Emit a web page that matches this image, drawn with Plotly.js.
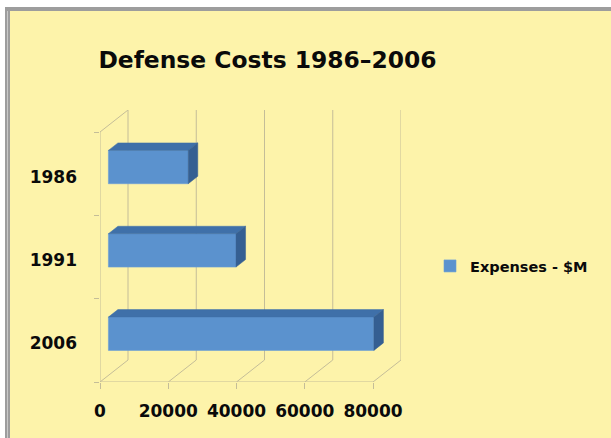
<!DOCTYPE html>
<html>
<head>
<meta charset="utf-8">
<script src="https://cdn.plot.ly/plotly-3.0.1.min.js"></script>
<style>
  html, body { margin: 0; padding: 0; background: #ffffff; }
  #wrap { position: relative; width: 611px; height: 438px; overflow: hidden; }
  #chart { position: absolute; left: 0; top: 0; width: 611px; height: 438px; }
  .edge { position: absolute; pointer-events: none; }
</style>
</head>
<body>
<div id="wrap">
  <div id="chart"></div>
  <div class="edge" style="left:0;top:0;width:611px;height:7px;background:#ffffff"></div>
  <div class="edge" style="left:0;top:0;width:5px;height:438px;background:#ffffff"></div>
  <div class="edge" style="left:5px;top:7px;width:606px;height:4px;background:#9d9d9d"></div>
  <div class="edge" style="left:5px;top:7px;width:5px;height:431px;background:#9d9d9d"></div>
  <div class="edge" style="left:7px;top:11px;width:1px;height:427px;background:#c9c9c9"></div>
</div>
<script>
// Defense expenses by year ($M)
const years = ['1986', '1991', '2006'];
const expenses = [23400, 37400, 77800];
const valueTicks = [0, 20000, 40000, 60000, 80000];
const seriesName = 'Expenses - $M';

// --- pseudo-3D layout geometry (oblique projection) ---
const axisMax = valueTicks[valueTicks.length - 1];
const pxPerValue = 273 / axisMax;          // front axis length in px
const pxPerBand = 250 / years.length;      // category band height in px
const depthPx = [28, 22];                  // wall depth offset (right, up)
const DX = depthPx[0] / pxPerValue;        // depth offset in value units
const DY = depthPx[1] / pxPerBand;         // depth offset in category units
const nCat = years.length;
const barFront = 0.30, barBack = 0.64;     // bar depth position within the floor
const barHalf = 0.20;                      // half bar thickness (gap width 150%)
const labelDrop = 3 / pxPerBand;           // category labels sit slightly low

const plotL = 100, plotT = 110;
const plotW = Math.round(axisMax * pxPerValue + depthPx[0]);
const plotH = Math.round(nCat * pxPerBand + depthPx[1]);
const W = 611, H = 438;

// category centres, first category on top
const centres = years.map((_, i) => nCat - i - 0.5);

// walls and gridlines
const gx = [], gy = [];
function seg(x0, y0, x1, y1) { gx.push(x0, x1, null); gy.push(y0, y1, null); }
valueTicks.forEach(v => {
  seg(v + DX, DY, v + DX, nCat + DY);   // back wall
  seg(v, 0, v + DX, DY);                // floor
});
seg(0, 0, axisMax, 0);                  // front edge of floor
seg(0, 0, 0, nCat);                     // front edge of side wall
seg(0, nCat, DX, nCat + DY);            // top edge of side wall

// top and end faces of each bar
const tx = [], ty = [], sx = [], sy = [];
expenses.forEach((v, i) => {
  const c = centres[i];
  const xf = barFront * DX, xb = barBack * DX;
  const yf = barFront * DY, yb = barBack * DY;
  tx.push(xf, xf + v, xb + v, xb, xf, null);
  ty.push(c + barHalf + yf, c + barHalf + yf, c + barHalf + yb, c + barHalf + yb, c + barHalf + yf, null);
  sx.push(xf + v, xb + v, xb + v, xf + v, xf + v, null);
  sy.push(c - barHalf + yf, c - barHalf + yb, c + barHalf + yb, c + barHalf + yf, c - barHalf + yf, null);
});

const gridColor = '#c4bd98';
const font = 'DejaVu Sans';

const traces = [
  { type: 'scatter', mode: 'lines', x: gx, y: gy, xaxis: 'x', yaxis: 'y',
    line: { color: gridColor, width: 1 }, hoverinfo: 'skip', showlegend: false },
  { type: 'bar', orientation: 'h', name: seriesName,
    x: expenses, y: centres.map(c => c + barFront * DY), base: barFront * DX,
    width: 2 * barHalf, xaxis: 'x2', yaxis: 'y2',
    marker: { color: '#5b92ce', line: { color: '#6a9ed6', width: 0.6 } } },
  { type: 'scatter', mode: 'lines', x: tx, y: ty, fill: 'toself', xaxis: 'x2', yaxis: 'y2',
    fillcolor: '#3f70a9', line: { color: '#3f70a9', width: 0.5 }, hoverinfo: 'skip', showlegend: false },
  { type: 'scatter', mode: 'lines', x: sx, y: sy, fill: 'toself', xaxis: 'x2', yaxis: 'y2',
    fillcolor: '#355f92', line: { color: '#355f92', width: 0.5 }, hoverinfo: 'skip', showlegend: false }
];

const xRange = [0, axisMax + DX];
const yRange = [0, nCat + DY];

const layout = {
  width: W, height: H,
  paper_bgcolor: '#fdf3aa', plot_bgcolor: 'rgba(0,0,0,0)',
  margin: { l: plotL, t: plotT, r: W - plotL - plotW, b: H - plotT - plotH, pad: 0 },
  title: {
    text: 'Defense Costs 1986–2006',
    font: { family: font, size: 23.4, color: '#0a0a0a', weight: 'bold' },
    xref: 'container', yref: 'container', x: 267.5 / W, xanchor: 'center',
    y: 1 - 60 / H, yanchor: 'middle'
  },
  xaxis: {
    range: xRange, fixedrange: true, showgrid: false, zeroline: false, showline: false,
    tickmode: 'array', tickvals: valueTicks, ticktext: valueTicks.map(String),
    ticks: 'outside', ticklen: 6, tickcolor: gridColor, tickwidth: 1,
    ticklabelstandoff: 8,
    tickfont: { family: font, size: 17, color: '#0a0a0a', weight: 'bold' }
  },
  yaxis: {
    range: yRange, fixedrange: true, showgrid: false, zeroline: false, showline: false,
    tickmode: 'array', tickvals: centres.map(c => c - labelDrop), ticktext: years,
    ticks: '', ticklabelstandoff: 22,
    minor: { tickmode: 'array', tickvals: [0, 1, 2, 3], ticks: 'outside', ticklen: 5,
             tickcolor: gridColor, tickwidth: 1, showgrid: false },
    tickfont: { family: font, size: 17, color: '#0a0a0a', weight: 'bold' }
  },
  xaxis2: { overlaying: 'x', range: xRange, visible: false, fixedrange: true },
  yaxis2: { overlaying: 'y', range: yRange, visible: false, fixedrange: true },
  showlegend: true,
  legend: {
    xref: 'container', yref: 'container', x: 430 / W, y: 1 - 266 / H,
    xanchor: 'left', yanchor: 'middle', bgcolor: 'rgba(0,0,0,0)',
    font: { family: font, size: 14.5, color: '#0a0a0a', weight: 'bold' }
  },
  hovermode: false
};

Plotly.newPlot('chart', traces, layout, { staticPlot: true, displayModeBar: false });
</script>
</body>
</html>
